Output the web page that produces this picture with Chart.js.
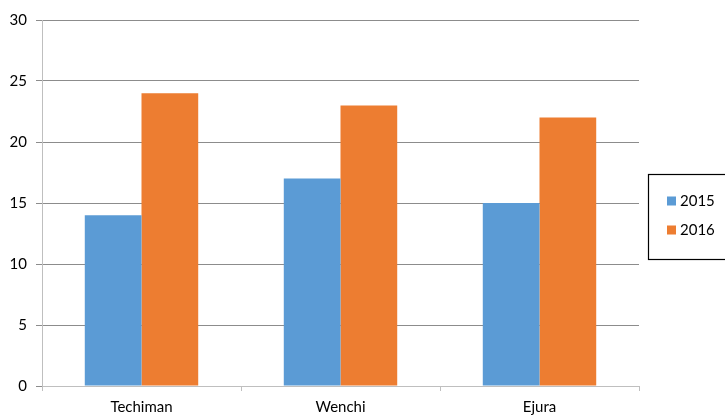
<!DOCTYPE html>
<html>
<head>
<meta charset="utf-8">
<script src="https://cdn.jsdelivr.net/npm/chart.js@4/dist/chart.umd.min.js"></script>
<style>
  html, body { margin: 0; padding: 0; background: #fff; }
  #wrap { width: 725px; height: 415px; position: relative; }
</style>
</head>
<body>
<div id="wrap"><canvas id="c" width="725" height="415"></canvas></div>
<script>
const categories = ['Techiman', 'Wenchi', 'Ejura'];
const seriesLabels = ['2015', '2016'];
const values2015 = [14, 17, 15];
const values2016 = [24, 23, 22];
const seriesColors = ['#5b9bd5', '#ed7d31'];
const yTicks = [0, 5, 10, 15, 20, 25, 30];

const FONT = 'Lato, "Open Sans", sans-serif';

// Boxed legend at the right, built from the dataset labels and colours
const boxedLegend = {
  id: 'boxedLegend',
  afterDraw(chart) {
    const ctx = chart.ctx;
    const x0 = 648, y0 = 174, w = 90, h = 85;
    ctx.save();
    ctx.strokeStyle = '#000';
    ctx.lineWidth = 1.2;
    ctx.strokeRect(x0 + 0.5, y0 + 0.5, w, h);
    ctx.font = '15px ' + FONT;
    ctx.textBaseline = 'middle';
    ctx.textAlign = 'left';
    chart.data.datasets.forEach((ds, i) => {
      const cy = 201 + i * 29;
      ctx.fillStyle = ds.backgroundColor;
      ctx.fillRect(667, cy - 4.5, 9, 9);
      ctx.fillStyle = '#000';
      ctx.fillText(ds.label, 680, cy);
    });
    ctx.restore();
  }
};

new Chart(document.getElementById('c'), {
  type: 'bar',
  data: {
    labels: categories,
    datasets: [
      { label: seriesLabels[0], data: values2015, backgroundColor: seriesColors[0] },
      { label: seriesLabels[1], data: values2016, backgroundColor: seriesColors[1] }
    ]
  },
  options: {
    responsive: false,
    animation: false,
    devicePixelRatio: 1,
    layout: { padding: { left: 0, right: 86, top: 20, bottom: 0 } },
    datasets: { bar: { categoryPercentage: 0.57, barPercentage: 1.0 } },
    plugins: { legend: { display: false }, tooltip: { enabled: false } },
    scales: {
      x: {
        grid: { display: true, drawOnChartArea: false, color: '#bfbfbf', tickLength: 5, offset: true },
        border: { color: '#bfbfbf', width: 1 },
        ticks: { color: '#000', font: { family: FONT, size: 15 }, padding: 7 },
        afterFit(scale) { scale.height = 29; }
      },
      y: {
        min: 0, max: 30,
        afterBuildTicks(scale) { scale.ticks = yTicks.map(v => ({ value: v })); },
        grid: { color: '#8c8c8c', tickLength: 6 },
        border: { color: '#bfbfbf', width: 1 },
        ticks: { color: '#000', font: { family: FONT, size: 15 }, padding: 9 },
        afterFit(scale) { scale.width = 42; }
      }
    }
  },
  plugins: [boxedLegend]
});
</script>
</body>
</html>
